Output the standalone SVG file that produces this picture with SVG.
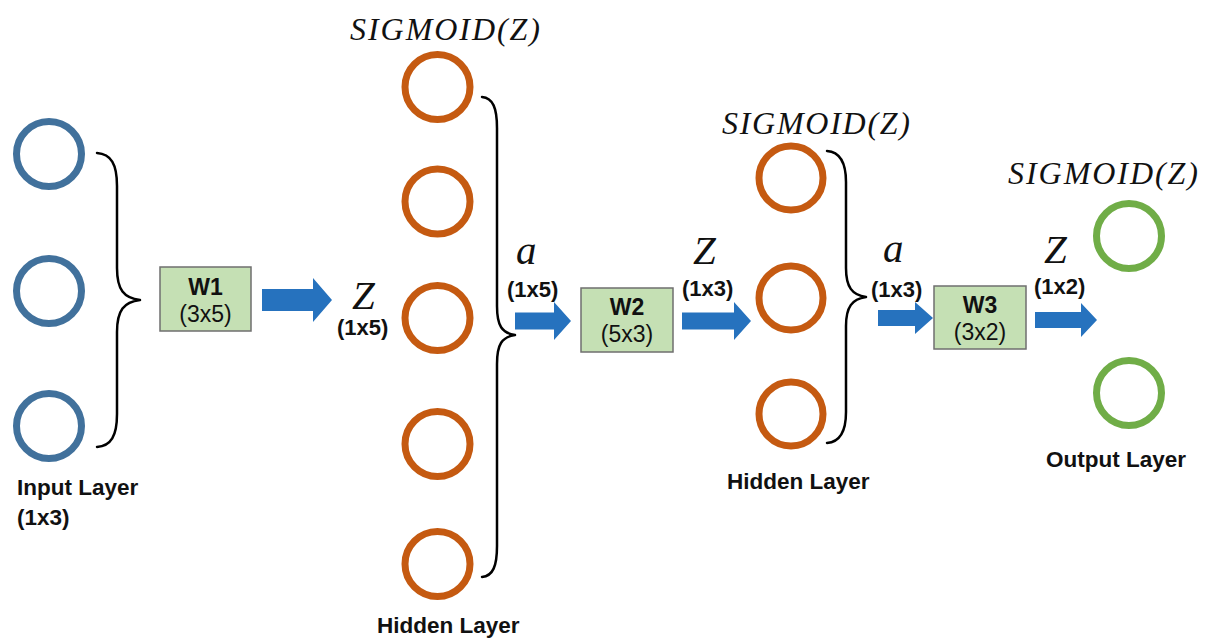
<svg xmlns="http://www.w3.org/2000/svg" width="1210" height="641" viewBox="0 0 1210 641">
  <style>
    .in { fill: none; stroke: #41719C; stroke-width: 7; }
    .hid { fill: none; stroke: #C55A11; stroke-width: 7; }
    .out { fill: none; stroke: #70AD47; stroke-width: 7; }
    .brace { fill: none; stroke: #000; stroke-width: 2.5; stroke-linecap: round; stroke-linejoin: round; }
    .arrow { fill: #2672BE; }
    .box { fill: #C5E0B4; stroke: #6F6F6F; stroke-width: 1.5; }
    .layer { font-family: "Liberation Sans", Arial, sans-serif; font-weight: bold; font-size: 22.5px; fill: #111; }
    .dim { font-family: "Liberation Sans", Arial, sans-serif; font-weight: bold; font-size: 22px; fill: #111; }
    .wt { font-family: "Liberation Sans", Arial, sans-serif; font-size: 23px; fill: #111; text-anchor: middle; }
    .wt.name { font-weight: bold; }
    .math { font-family: "Liberation Serif", "Times New Roman", serif; font-style: italic; fill: #111; }
    .sig { font-size: 32px; }
    .var { font-size: 41px; }
  </style>

  <!-- input layer -->
  <g id="input-layer">
    <circle class="in" cx="49" cy="154" r="32.5"/>
    <circle class="in" cx="49" cy="291" r="32.5"/>
    <circle class="in" cx="49" cy="426" r="32.5"/>
    <text class="layer" x="17" y="495">Input Layer</text>
    <text class="layer" x="17" y="525">(1x3)</text>
  </g>

  <!-- first hidden layer -->
  <g id="hidden-layer-1">
    <text class="math sig" x="350" y="40" textLength="190" lengthAdjust="spacing">SIGMOID(Z)</text>
    <circle class="hid" cx="437.5" cy="87" r="32.5"/>
    <circle class="hid" cx="437.5" cy="201.5" r="32.5"/>
    <circle class="hid" cx="437.5" cy="318" r="32.5"/>
    <circle class="hid" cx="437.5" cy="444" r="32.5"/>
    <circle class="hid" cx="437.5" cy="564" r="32.5"/>
    <text class="layer" x="377" y="633">Hidden Layer</text>
  </g>

  <!-- second hidden layer -->
  <g id="hidden-layer-2">
    <text class="math sig" x="722" y="134" textLength="188" lengthAdjust="spacing">SIGMOID(Z)</text>
    <circle class="hid" cx="791" cy="178" r="32"/>
    <circle class="hid" cx="791" cy="298" r="32"/>
    <circle class="hid" cx="791" cy="414" r="32"/>
    <text class="layer" x="727" y="489">Hidden Layer</text>
  </g>

  <!-- output layer -->
  <g id="output-layer">
    <text class="math sig" x="1008" y="184" textLength="190" lengthAdjust="spacing">SIGMOID(Z)</text>
    <circle class="out" cx="1129" cy="236" r="32.5"/>
    <circle class="out" cx="1129" cy="393" r="32.5"/>
    <text class="layer" x="1046" y="467">Output Layer</text>
  </g>

  <!-- weight matrices -->
  <g id="w1">
    <rect class="box" x="160" y="267" width="91" height="64"/>
    <text class="wt name" x="205.5" y="295">W1</text>
    <text class="wt" x="205.5" y="322">(3x5)</text>
  </g>
  <g id="w2">
    <rect class="box" x="581" y="288" width="92" height="64"/>
    <text class="wt name" x="627" y="315">W2</text>
    <text class="wt" x="627" y="342">(5x3)</text>
  </g>
  <g id="w3">
    <rect class="box" x="934" y="286" width="92" height="63"/>
    <text class="wt name" x="980" y="313">W3</text>
    <text class="wt" x="980" y="340">(3x2)</text>
  </g>

  <!-- values passed between layers -->
  <g id="values">
    <text class="math var" x="352" y="309">Z</text>
    <text class="dim" x="337" y="335">(1x5)</text>
    <text class="math var" x="516" y="264">a</text>
    <text class="dim" x="507" y="297">(1x5)</text>
    <text class="math var" x="693" y="264">Z</text>
    <text class="dim" x="682" y="296">(1x3)</text>
    <text class="math var" x="883" y="262">a</text>
    <text class="dim" x="871" y="297">(1x3)</text>
    <text class="math var" x="1044" y="263">Z</text>
    <text class="dim" x="1034" y="294">(1x2)</text>
  </g>

  <!-- connectors: braces and arrows -->
  <g id="connectors">
    <path class="brace" d="M97,153 C111,154 117,164 117,186 L117,268 C117,290 124,298 140,300 C124,302 117,310 117,332 L117,414 C117,436 111,446 97,447"/>
    <path class="brace" d="M482,97 C493,98 497,108 497,128 L497,306 C497,326 502,333 515,335 C502,337 497,344 497,364 L497,546 C497,566 493,576 482,577"/>
    <path class="brace" d="M827,151 C840,152 846,162 846,182 L846,268 C846,287 852,295 866,297 C852,299 846,307 846,326 L846,412 C846,432 840,442 827,443"/>

    <polygon class="arrow" points="262,289 313,289 313,278 332,300 313,322 313,311 262,311"/>
    <polygon class="arrow" points="515,312.5 554,312.5 554,302 571,321 554,340 554,329.5 515,329.5"/>
    <polygon class="arrow" points="682,312.5 734,312.5 734,302 751,321 734,340 734,329.5 682,329.5"/>
    <polygon class="arrow" points="878,310 915,310 915,302 933,318 915,334 915,326 878,326"/>
    <polygon class="arrow" points="1035,312 1081,312 1081,303 1097,320 1081,337 1081,328 1035,328"/>
  </g>
</svg>
